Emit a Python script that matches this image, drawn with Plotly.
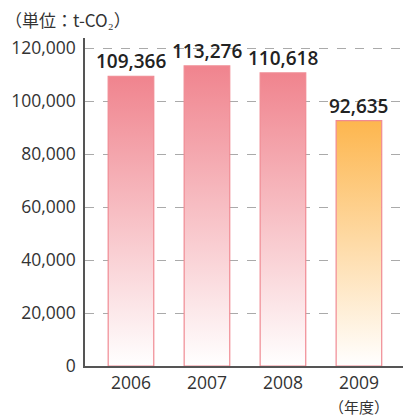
import plotly.graph_objects as go

years = ["2006", "2007", "2008", "2009"]
values = [109366, 113276, 110618, 92635]
value_labels = ["109,366", "113,276", "110,618", "92,635"]
top_colors = ["#F0848E", "#F0848E", "#F0848E", "#FDB64E"]
edge_colors = ["#F08A93", "#F08A93", "#F08A93", "#F08A93"]
y_ticks = [0, 20000, 40000, 60000, 80000, 100000, 120000]
y_tick_labels = ["0", "20,000", "40,000", "60,000", "80,000", "100,000", "120,000"]

half = 0.30
fig = go.Figure()
for i, (v, c, e) in enumerate(zip(values, top_colors, edge_colors)):
    fig.add_trace(go.Scatter(
        x=[i - half, i - half, i + half, i + half, i - half],
        y=[0, v, v, 0, 0],
        mode="lines",
        fill="toself",
        line=dict(color=e, width=1.2),
        fillgradient=dict(type="vertical",
                          colorscale=[[0, "#FFFFFF"], [1, c]]),
        hoverinfo="skip",
        showlegend=False,
    ))
    fig.add_annotation(x=i, y=v, text=value_labels[i], showarrow=False,
                       yanchor="bottom", yshift=0,
                       font=dict(family="Open Sans", size=19, color="#222222", weight=600))

fig.add_annotation(x=0.0, y=1.0, xref="paper", yref="paper", xshift=-82, yshift=4,
                   text="（単位：t-CO₂）", showarrow=False, xanchor="left", yanchor="bottom",
                   font=dict(family="Noto Sans CJK JP", size=17, color="#333333"))
fig.add_annotation(x=3, y=0, text="（年度）", showarrow=False, yanchor="top", yshift=-28,
                   font=dict(family="Noto Sans CJK JP", size=15, color="#333333"))

fig.update_layout(
    width=403, height=416,
    margin=dict(l=85, r=0, t=38, b=50),
    plot_bgcolor="white", paper_bgcolor="white",
    font=dict(family="Open Sans", size=17.5, color="#333333"),
    xaxis=dict(range=[-0.605, 3.58], tickvals=[0, 1, 2, 3], ticktext=years,
               showgrid=False, zeroline=False, showline=True, linecolor="#555555",
               linewidth=1.5, ticks="", fixedrange=True),
    yaxis=dict(range=[0, 123800], tickvals=y_ticks, ticktext=y_tick_labels,
               showgrid=True, gridcolor="#AAAAAA", griddash="dash", gridwidth=1,
               zeroline=False, showline=True, linecolor="#555555", linewidth=1.5,
               ticks="", ticklabelstandoff=4, fixedrange=True),
)
fig.write_html("out.html")
